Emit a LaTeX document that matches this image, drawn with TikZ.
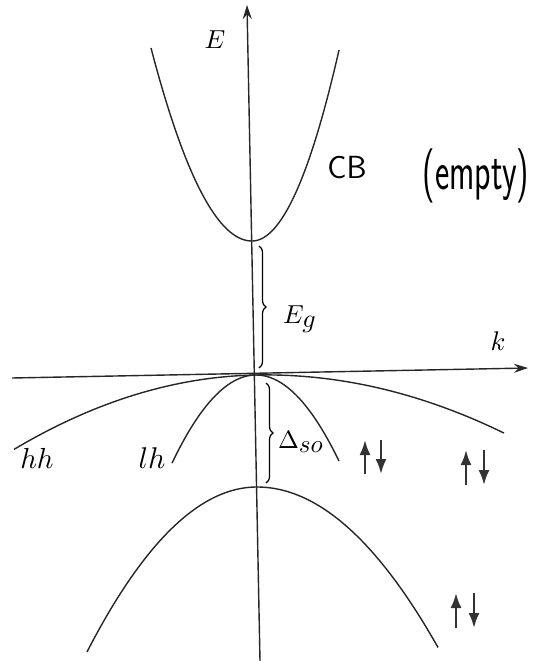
\documentclass[tikz,border=0pt]{standalone}
\usetikzlibrary{arrows.meta,decorations.pathreplacing}
\newcommand{\mylbl}[2]{\scalebox{#1}{#2}}
\begin{document}
\begin{tikzpicture}[x=1pt,y=-1pt,
  curve/.style={line width=1.4pt,black!85,samples=80},
  axis/.style={line width=1.4pt,black!85,-{Stealth[length=14pt,width=9pt]}},
  spin/.style={line width=2.2pt,black!80,-{Latex[length=15pt,width=11pt]}},
  brc/.style={line width=1.2pt,decorate,decoration={brace,amplitude=7pt}},
  lbl/.style={inner sep=0pt},
  hand/.style={inner sep=0pt,font=\sffamily}]
\useasboundingbox (0,0) rectangle (540,661);
% axes
\coordinate (kL) at (12,378);
\coordinate (kR) at (528,368);
\coordinate (eB) at (260,661);
\coordinate (eT) at (247,5);
\draw[axis] (kL) -- (kR);
\draw[axis] (eB) -- (eT);
% conduction band
\draw[curve] plot[domain=151:252] (\x,{241-0.01892*(\x-252)*(\x-252)})
  -- plot[domain=252:339] (\x,{241-0.02523*(\x-252)*(\x-252)});
% heavy hole
\draw[curve] plot[domain=14:256] (\x,{375-0.0194*(\x-256)+0.00119*(\x-256)*(\x-256)})
  -- plot[domain=256:504] (\x,{375-0.0194*(\x-256)+0.00102*(\x-256)*(\x-256)});
% light hole
\draw[curve] plot[domain=172:339] (\x,{375+0.0125*(\x-256)*(\x-256)});
% split-off
\draw[curve] plot[domain=87:257] (\x,{487+0.0057*(\x-257)*(\x-257)})
  -- plot[domain=257:438] (\x,{487+0.0049*(\x-257)*(\x-257)});
% braces
\coordinate (gT) at (259,246);
\coordinate (gB) at (259,368);
\draw[brc] (gT) -- (gB);
\coordinate (sT) at (266,383);
\coordinate (sB) at (266,483);
\draw[brc] (sT) -- (sB);
% labels
\node[lbl] (E) at (215,40) {\mylbl{2.6}{$E$}};
\node[lbl] (k) at (498,341) {\mylbl{2.7}{$k$}};
\node[lbl] (Eg) at (300,319) {\mylbl{2.6}{$E_{\textstyle g}$}};
\node[lbl] (Dso) at (301,442) {\mylbl{2.5}{$\Delta_{\textstyle so}$}};
\node[lbl] (hh) at (37,458) {\mylbl{2.9}{$hh$}};
\node[lbl] (lh) at (152,458) {\mylbl{3.0}{$lh$}};
\node[hand] (CB) at (347,168) {\fontsize{32}{36}\selectfont CB};
\node[hand] (empty) at (476,176) {\fontsize{34}{38}\selectfont\scalebox{1}[1.6]{(empty)}};
% spins
\coordinate (u1b) at (365,474); \coordinate (u1t) at (365,440);
\coordinate (d1t) at (381,440); \coordinate (d1b) at (381,474);
\draw[spin] (u1b) -- (u1t); \draw[spin] (d1t) -- (d1b);
\coordinate (u2b) at (466,485); \coordinate (u2t) at (466,450);
\coordinate (d2t) at (484,450); \coordinate (d2b) at (484,485);
\draw[spin] (u2b) -- (u2t); \draw[spin] (d2t) -- (d2b);
\coordinate (u3b) at (456,628); \coordinate (u3t) at (456,593);
\coordinate (d3t) at (474,593); \coordinate (d3b) at (474,628);
\draw[spin] (u3b) -- (u3t); \draw[spin] (d3t) -- (d3b);
\end{tikzpicture}
\end{document}
